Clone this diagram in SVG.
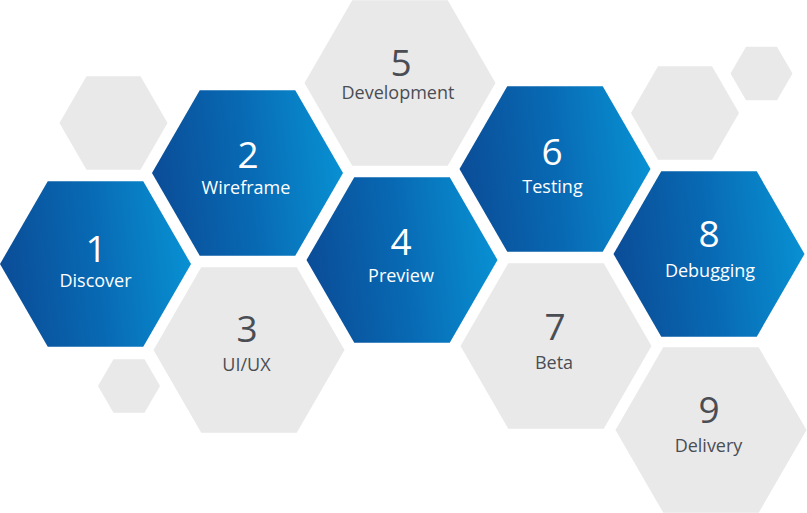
<svg xmlns="http://www.w3.org/2000/svg" xmlns:xlink="http://www.w3.org/1999/xlink" width="807" height="513" viewBox="0 0 807 513">
  <defs>
    <linearGradient id="blue" x1="0" y1="0.55" x2="1" y2="0.45">
      <stop offset="0" stop-color="#0b4c97"/>
      <stop offset="0.5" stop-color="#0869b3"/>
      <stop offset="1" stop-color="#0891d3"/>
    </linearGradient>
    <polygon id="hexL" points="-95.5,0 -47.75,-82.7 47.75,-82.7 95.5,0 47.75,82.7 -47.75,82.7"/>
    <polygon id="hexM" points="-54,0 -27,-46.8 27,-46.8 54,0 27,46.8 -27,46.8"/>
    <polygon id="hexS" points="-31,0 -15.5,-26.8 15.5,-26.8 31,0 15.5,26.8 -15.5,26.8"/>
    <style>
      .b { fill: url(#blue); }
      .g { fill: #e9e9e9; }
      .num { font-family: "Open Sans", "Liberation Sans", sans-serif; font-size: 37px; text-anchor: middle; }
      .lbl { font-family: "Open Sans", "Liberation Sans", sans-serif; font-size: 18px; text-anchor: middle; }
      .w { fill: #ffffff; }
      .d { fill: #4a4e54; }
    </style>
  </defs>
  <rect width="807" height="513" fill="#ffffff"/>

  <g id="deco">
    <use xlink:href="#hexM" href="#hexM" class="g" x="113.5" y="123"/>
    <use xlink:href="#hexM" href="#hexM" class="g" x="685" y="113"/>
    <use xlink:href="#hexS" href="#hexS" class="g" x="129" y="386"/>
    <use xlink:href="#hexS" href="#hexS" class="g" x="761.5" y="73.5"/>
  </g>

  <g id="node1">
    <use xlink:href="#hexL" href="#hexL" class="b" x="95.5" y="264"/>
    <text class="num w" x="96" y="262">1</text>
    <text class="lbl w" x="95.5" y="287">Discover</text>
  </g>
  <g id="node2">
    <use xlink:href="#hexL" href="#hexL" class="b" x="247.5" y="173"/>
    <text class="num w" x="248" y="168">2</text>
    <text class="lbl w" x="246" y="194">Wireframe</text>
  </g>
  <g id="node3">
    <use xlink:href="#hexL" href="#hexL" class="g" x="249" y="350"/>
    <text class="num d" x="247" y="342">3</text>
    <text class="lbl d" x="246.5" y="371">UI/UX</text>
  </g>
  <g id="node4">
    <use xlink:href="#hexL" href="#hexL" class="b" x="402" y="260"/>
    <text class="num w" x="401" y="255">4</text>
    <text class="lbl w" x="401" y="282">Preview</text>
  </g>
  <g id="node5">
    <use xlink:href="#hexL" href="#hexL" class="g" x="400" y="83"/>
    <text class="num d" x="401" y="76">5</text>
    <text class="lbl d" x="398" y="99">Development</text>
  </g>
  <g id="node6">
    <use xlink:href="#hexL" href="#hexL" class="b" x="555" y="169"/>
    <text class="num w" x="552" y="165">6</text>
    <text class="lbl w" x="552.5" y="193">Testing</text>
  </g>
  <g id="node7">
    <use xlink:href="#hexL" href="#hexL" class="g" x="556" y="346"/>
    <text class="num d" x="555" y="340">7</text>
    <text class="lbl d" x="554" y="369">Beta</text>
  </g>
  <g id="node8">
    <use xlink:href="#hexL" href="#hexL" class="b" x="709" y="254"/>
    <text class="num w" x="709" y="247">8</text>
    <text class="lbl w" x="710" y="277">Debugging</text>
  </g>
  <g id="node9">
    <use xlink:href="#hexL" href="#hexL" class="g" x="711" y="430"/>
    <text class="num d" x="709" y="423">9</text>
    <text class="lbl d" x="708.5" y="452">Delivery</text>
  </g>

  <g id="connectors"></g>
</svg>
